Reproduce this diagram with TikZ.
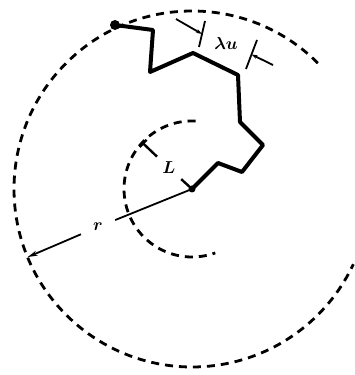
\documentclass[tikz,border=0pt]{standalone}
\usepackage{bm}
\usetikzlibrary{arrows.meta}
\tikzset{every picture/.style={line width=1pt},
  ring/.style={line width=2.8pt,dash pattern=on 8pt off 6pt},
  walk/.style={line width=4pt,line join=round},
  dim/.style={line width=1.8pt},
  gap/.style={circle,inner sep=0pt,minimum size=#1}}

\begin{document}
\begin{tikzpicture}[x=1pt,y=1pt]
\useasboundingbox (0,0) rectangle (355,375);
\coordinate (O) at (192,186);
\draw[ring] (O) ++(45:178) arc[start angle=45,end angle=335,radius=178];
\draw[ring] (O) ++(87:68) arc[start angle=87,end angle=290,radius=68];
\coordinate (w0) at (115,350);
\coordinate (w1) at (153,345);
\coordinate (w2) at (150,303);
\coordinate (w3) at (193,322);
\coordinate (w4) at (238,300);
\coordinate (w5) at (240,253);
\coordinate (w6) at (263,230);
\coordinate (w7) at (242,203);
\coordinate (w8) at (218,212);
\draw[walk] (w0) -- (w1) -- (w2) -- (w3) -- (w4) -- (w5) -- (w6) -- (w7) -- (w8) -- (O);
\fill (w0) circle (5pt);
\fill (O) circle (3.5pt);
\path (O) ++(202.5:178) coordinate (rim);
\node[gap=36pt,font=\LARGE] (rlab) at (98,148) {$\bm{r}$};
\draw[dim] (O) -- (rlab);
\draw[dim,-{Stealth[length=10pt,width=5pt]}] (rlab) -- (rim);
\path (O) ++(137:68) coordinate (Ltip);
\node[gap=32pt,font=\LARGE] (Llab) at (169,207) {$\bm{L}$};
\draw[dim,line width=2.4pt,{Bar[width=10pt]}-] (Ltip) -- (Llab);
\draw[dim,line width=2.4pt] (Llab) -- (O);
\coordinate (t1a) at (199,328);
\coordinate (t1b) at (205,354);
\coordinate (t2a) at (246,306);
\coordinate (t2b) at (257,335);
\coordinate (m1) at (202,341);
\coordinate (m2) at (251.5,320.5);
\coordinate (e1) at (176,356);
\coordinate (e2) at (273,310);
\draw[dim] (t1a) -- (t1b);
\draw[dim] (t2a) -- (t2b);
\draw[dim,-{Stealth[length=6pt,width=4pt]}] (e1) -- (m1);
\draw[dim,-{Stealth[length=6pt,width=4pt]}] (e2) -- (m2);
\node[inner sep=0pt,font=\LARGE] (lam) at (226,331) {$\bm{\lambda u}$};
\end{tikzpicture}
\end{document}
